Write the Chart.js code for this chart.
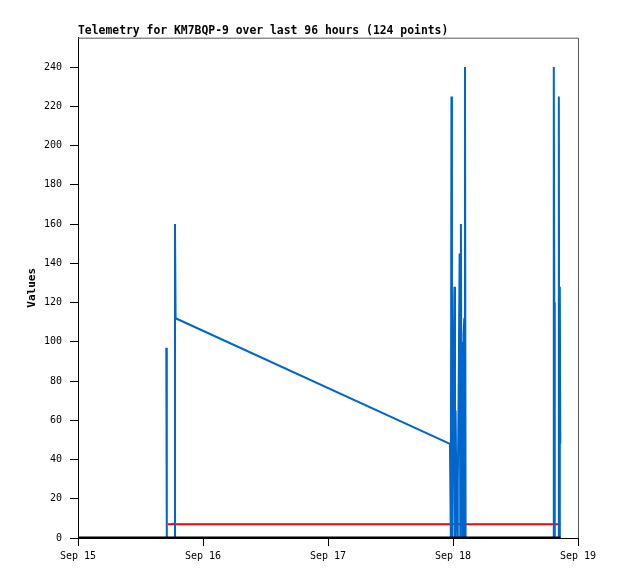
<!DOCTYPE html>
<html lang="en">
<head>
  <meta charset="UTF-8">
  <title>Telemetry for KM7BQP-9</title>
  <script src="https://cdn.jsdelivr.net/npm/chart.js"></script>
  <style>
    body {
      margin: 0;
      padding: 0;
      background: #fff;
    }
    #wrap {
      width: 618px;
      height: 579px;
    }
  </style>
</head>
<body>
  <div id="wrap">
    <canvas id="telemetryChart" width="618" height="579"></canvas>
  </div>

  <script>
    // times are hours after Sep 15 00:00
    const dayLabels = ["Sep 15", "Sep 16", "Sep 17", "Sep 18", "Sep 19"];

    const blueHours = [16.95, 17.05, 18.59, 18.62, 18.74, 71.42,
      71.58, 71.70, 71.80, 71.90, 72.04, 72.27, 72.38, 72.50, 72.65, 72.81,
      72.92, 73.08, 73.27, 73.40, 73.52, 73.65, 73.79, 73.92, 74.04, 74.17,
      74.30, 74.42, 91.30, 91.35, 91.45, 91.54, 92.26, 92.32, 92.41, 92.51, 92.60];
    const blueValues = [97, 0, 0, 160, 112, 48,
      0, 225, 128, 0, 65, 128, 0, 65, 20, 0,
      28, 72, 145, 0, 160, 20, 100, 0, 104, 112,
      240, 0, 0, 240, 120, 0, 0, 225, 0, 128, 48];

    const redHours = [17.28, 18.05, 18.14, 18.25, 92.62];
    const redValues = [7, 7, 7.6, 7, 7];

    const blackHours = [0, 92.62];
    const blackValues = [0, 0];

    const toPoints = (hours, values) => hours.map((h, i) => ({ x: h, y: values[i] }));

    const monoFont = "'DejaVu Sans Mono', 'Liberation Mono', monospace";

    const frame = {
      id: "frame",
      afterDraw(chart) {
        const { ctx, chartArea } = chart;
        ctx.save();
        ctx.strokeStyle = "#555";
        ctx.lineWidth = 1;
        ctx.beginPath();
        ctx.moveTo(chartArea.left, chartArea.top + 0.5);
        ctx.lineTo(chartArea.right + 0.5, chartArea.top + 0.5);
        ctx.lineTo(chartArea.right + 0.5, chartArea.bottom);
        ctx.stroke();
        ctx.restore();
      }
    };

    const lineSet = (hours, values, color, width) => ({
      data: toPoints(hours, values),
      borderColor: color,
      backgroundColor: color,
      borderWidth: width,
      borderJoinStyle: "bevel",
      pointRadius: 0,
      tension: 0,
      fill: false
    });

    new Chart(document.getElementById("telemetryChart"), {
      type: "line",
      data: {
        datasets: [
          lineSet(blackHours, blackValues, "#000", 3),
          lineSet(blueHours, blueValues, "#0066cc", 2),
          lineSet(redHours, redValues, "#ff0000", 2)
        ]
      },
      plugins: [frame],
      options: {
        responsive: false,
        animation: false,
        layout: { padding: { left: 0, right: 40, top: 0, bottom: 0 } },
        plugins: {
          legend: { display: false },
          tooltip: { enabled: false },
          title: {
            display: true,
            text: "Telemetry for KM7BQP-9 over last 96 hours (124 points)",
            align: "start",
            fullSize: false,
            color: "#000",
            font: { family: monoFont, size: 11.4, weight: "bold" },
            padding: { top: 24, bottom: 0 }
          }
        },
        scales: {
          x: {
            type: "linear",
            min: 0,
            max: 96,
            afterFit: (scale) => { scale.height = 41; },
            ticks: {
              stepSize: 24,
              color: "#000",
              padding: 4,
              maxRotation: 0,
              font: { family: monoFont, size: 10 },
              callback: (v) => dayLabels[v / 24]
            },
            grid: { drawOnChartArea: false, color: "#000", tickLength: 8 },
            border: { color: "#000", width: 1 }
          },
          y: {
            min: 0,
            max: 255,
            afterFit: (scale) => { scale.width = 78; },
            ticks: {
              stepSize: 20,
              includeBounds: false,
              color: "#000",
              padding: 8,
              font: { family: monoFont, size: 10 }
            },
            grid: { drawOnChartArea: false, color: "#000", tickLength: 8 },
            border: { color: "#000", width: 1 },
            title: {
              display: true,
              text: "Values",
              color: "#000",
              font: { family: monoFont, size: 11, weight: "bold" },
              padding: { top: 26, bottom: 0 }
            }
          }
        }
      }
    });
  </script>
</body>
</html>
